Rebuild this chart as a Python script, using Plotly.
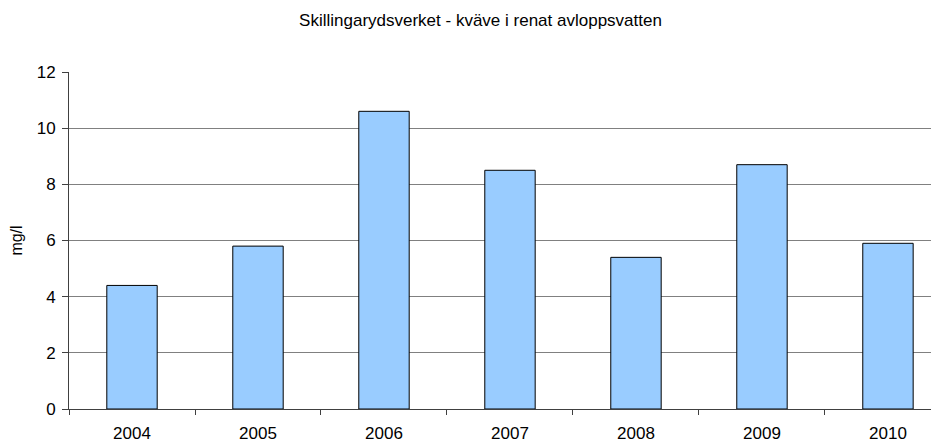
import plotly.graph_objects as go

years = ["2004", "2005", "2006", "2007", "2008", "2009", "2010"]
nitrogen = [4.4, 5.8, 10.6, 8.5, 5.4, 8.7, 5.9]
y_ticks = [0, 2, 4, 6, 8, 10, 12]

title_text = "Skillingarydsverket - kväve i renat avloppsvatten"
y_title = "mg/l"

FONT = "Liberation Sans, Arial, sans-serif"

# page body has an 8px margin, so the figure is sized to fit the 939x444 window
W, H = 931, 436

fig = go.Figure(
    go.Bar(
        x=years,
        y=nitrogen,
        width=0.4,
        marker=dict(color="#99CCFF", line=dict(color="#000000", width=1)),
        hoverinfo="x+y",
    )
)

fig.update_layout(
    width=W,
    height=H,
    margin=dict(l=61, r=0, t=64, b=35, autoexpand=False),
    paper_bgcolor="white",
    plot_bgcolor="white",
    font=dict(family=FONT, size=17, color="#000000"),
    showlegend=False,
    title=dict(
        text=title_text,
        font=dict(family=FONT, size=17, color="#000000"),
        xref="container",
        x=472.5 / W,
        xanchor="center",
        yref="container",
        y=1 - 12 / H,
        yanchor="middle",
    ),
)

fig.update_xaxes(
    type="category",
    range=[-0.5, 6.405],
    showline=True,
    linecolor="#404040",
    linewidth=1,
    ticks="outside",
    tickson="boundaries",
    ticklen=5,
    tickcolor="#404040",
    showgrid=False,
    automargin=False,
    ticklabelstandoff=9,
    tickfont=dict(size=17),
)

fig.update_yaxes(
    range=[0, 12],
    tickvals=y_ticks,
    showline=True,
    linecolor="#404040",
    linewidth=1,
    ticks="outside",
    ticklen=6,
    tickcolor="#404040",
    showgrid=True,
    gridcolor="#808080",
    gridwidth=1,
    zeroline=False,
    automargin=False,
    ticklabelstandoff=3,
    tickfont=dict(size=17),
    title=dict(text=y_title, font=dict(size=16), standoff=16),
)

fig.write_html("out.html")
